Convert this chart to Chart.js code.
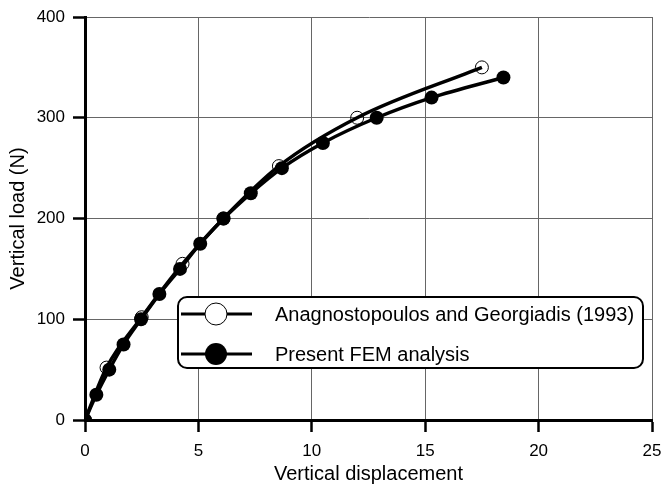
<!DOCTYPE html>
<html>
<head>
<meta charset="utf-8">
<title>Vertical load vs displacement</title>
<script src="https://cdn.jsdelivr.net/npm/chart.js@4.4.1/dist/chart.umd.min.js"></script>
<style>
  html, body { margin: 0; padding: 0; background: #fff; }
  #loadChart { display: block; }
</style>
</head>
<body>
<canvas id="loadChart" width="663" height="491"></canvas>
<script>
// load-displacement curves
const seriesNames = ['Anagnostopoulos and Georgiadis (1993)', 'Present FEM analysis'];

const anaDisp = [0, 0.95, 2.5, 4.3, 6.1, 8.55, 12.0, 17.5];
const anaLoad = [0, 52, 102, 155, 200, 252, 300, 350];

const femDisp = [0, 0.5, 1.07, 1.7, 2.47, 3.28, 4.19, 5.08, 6.11, 7.31, 8.68, 10.49, 12.86, 15.28, 18.45];
const femLoad = [0, 25, 50, 75, 100, 125, 150, 175, 200, 225, 250, 275, 300, 320, 340];

const xTicks = [0, 5, 10, 15, 20, 25];
const yTicks = [0, 100, 200, 300, 400];

const FONT = '"Liberation Sans", Arial, Helvetica, sans-serif';
Chart.defaults.font.family = FONT;
Chart.defaults.color = '#000';

function toPoints(xs, ys) {
    return xs.map((x, i) => ({ x: x, y: ys[i] }));
}

// boxed legend with rounded corners, sitting inside the plot
const boxLegend = {
    id: 'boxLegend',
    afterDatasetsDraw(chart) {
        const ctx = chart.ctx;
        const x0 = 178, y0 = 297, x1 = 643, y1 = 368;
        ctx.save();
        ctx.beginPath();
        ctx.roundRect(x0, y0, x1 - x0, y1 - y0, 9);
        ctx.fillStyle = '#fff';
        ctx.fill();
        ctx.lineWidth = 2;
        ctx.strokeStyle = '#000';
        ctx.stroke();

        chart.data.datasets.forEach((ds, i) => {
            const y = 314 + i * 40;
            ctx.beginPath();
            ctx.moveTo(181, y);
            ctx.lineTo(252, y);
            ctx.lineWidth = 3;
            ctx.strokeStyle = '#000';
            ctx.stroke();

            ctx.beginPath();
            ctx.arc(216, y, 11, 0, Math.PI * 2);
            if (ds.pointBackgroundColor === '#000') {
                ctx.fillStyle = '#000';
                ctx.fill();
            } else {
                ctx.fillStyle = '#fff';
                ctx.fill();
                ctx.lineWidth = 1;
                ctx.stroke();
            }

            ctx.fillStyle = '#000';
            ctx.font = '20px ' + FONT;
            ctx.textAlign = 'left';
            ctx.textBaseline = 'middle';
            ctx.fillText(ds.label, 275, y + 1);
        });
        ctx.restore();
    }
};

const loadChart = new Chart(document.getElementById('loadChart'), {
    type: 'scatter',
    data: {
        datasets: [
            {
                label: seriesNames[0],
                data: toPoints(anaDisp, anaLoad),
                showLine: true,
                borderColor: '#000',
                borderWidth: 3.5,
                cubicInterpolationMode: 'monotone',
                pointRadius: 6.5,
                pointBorderWidth: 1,
                pointBorderColor: '#000',
                pointBackgroundColor: 'rgba(0,0,0,0)'
            },
            {
                label: seriesNames[1],
                data: toPoints(femDisp, femLoad),
                showLine: true,
                borderColor: '#000',
                borderWidth: 3.5,
                cubicInterpolationMode: 'monotone',
                pointRadius: 7,
                pointBorderWidth: 0,
                pointBorderColor: '#000',
                pointBackgroundColor: '#000'
            }
        ]
    },
    options: {
        responsive: false,
        animation: false,
        layout: { padding: { top: 17, right: 11, left: 0, bottom: 0 } },
        plugins: {
            legend: { display: false },
            tooltip: { enabled: false }
        },
        scales: {
            x: {
                type: 'linear',
                min: 0,
                max: 25,
                afterFit(scale) {
                    scale.height = 71;
                    scale.paddingLeft = 0;
                    scale.paddingRight = 0;
                },
                afterBuildTicks(scale) { scale.ticks = xTicks.map(v => ({ value: v })); },
                grid: { color: '#666', lineWidth: 1, tickLength: 12, tickColor: '#000', tickWidth: 2.5 },
                border: { color: '#000', width: 3 },
                ticks: { font: { size: 17 }, padding: 9, maxRotation: 0 },
                title: {
                    display: true,
                    text: 'Vertical displacement',
                    font: { size: 20 },
                    padding: { top: 0, bottom: 5 }
                }
            },
            y: {
                type: 'linear',
                min: 0,
                max: 400,
                afterFit(scale) {
                    scale.width = 85;
                    scale.paddingTop = 0;
                    scale.paddingBottom = 0;
                },
                afterBuildTicks(scale) { scale.ticks = yTicks.map(v => ({ value: v })); },
                grid: { color: '#666', lineWidth: 1, tickLength: 12, tickColor: '#000', tickWidth: 2.5 },
                border: { color: '#000', width: 3 },
                ticks: { font: { size: 17 }, padding: 8 },
                title: {
                    display: true,
                    text: 'Vertical load (N)',
                    font: { size: 20 },
                    padding: { top: 6, bottom: 0 }
                }
            }
        }
    },
    plugins: [boxLegend]
});
</script>
</body>
</html>
